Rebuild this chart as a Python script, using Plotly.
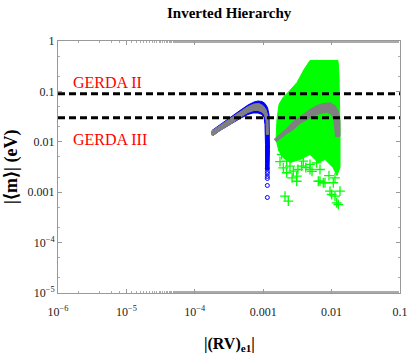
import plotly.graph_objects as go

# ---- data ----
# blue band (outline of the filled region)
blue_x = [1.785e-4, 2.34e-4, 3.27e-4, 4.58e-4, 5.99e-4, 7.34e-4, 8.39e-4, 9.60e-4, 1.062e-3, 1.156e-3,
          1.216e-3, 1.236e-3, 1.236e-3, 1.216e-3,
          1.080e-3, 1.080e-3, 1.062e-3, 1.028e-3, 9.60e-4, 8.39e-4, 7.10e-4, 5.99e-4, 4.58e-4, 3.27e-4,
          2.34e-4, 1.845e-4]
blue_y = [0.0168, 0.0220, 0.0304, 0.0418, 0.0537, 0.0616, 0.0645, 0.0631, 0.0575, 0.0479,
          0.0348, 0.0175, 0.00703, 0.00282,
          0.00282, 0.00883, 0.0220, 0.0304, 0.0348, 0.0373, 0.0373, 0.0348, 0.0290, 0.0220,
          0.0168, 0.0133]

# isolated blue points
blue_pts_x = [1.15e-3, 1.15e-3, 1.15e-3, 1.15e-3, 1.15e-3, 1.15e-3, 1.15e-3]
blue_pts_y = [0.00295, 0.00258, 0.00235, 0.00205, 0.00187, 0.00136, 0.000785]

# gray band on the blue branch
gray1_x = [1.726e-4, 2.34e-4, 3.27e-4, 4.58e-4, 5.99e-4, 7.34e-4, 8.67e-4, 9.93e-4, 1.099e-3, 1.175e-3,
           1.194e-3, 1.117e-3, 1.099e-3, 1.045e-3, 9.60e-4, 8.39e-4, 7.34e-4, 5.99e-4, 4.58e-4,
           3.27e-4, 2.34e-4, 1.845e-4, 1.726e-4]
gray1_y = [0.0160, 0.0211, 0.0290, 0.0399, 0.0501, 0.0562, 0.0575, 0.0525, 0.0437, 0.0318,
           0.0140, 0.0140, 0.0265, 0.0340, 0.0390, 0.0418, 0.0418, 0.0381, 0.0304,
           0.0220, 0.0168, 0.0133, 0.0140]

# green dense region
green_x = [1.539e-3, 1.591e-3, 1.702e-3, 1.948e-3, 2.305e-3, 3.119e-3, 3.950e-3, 4.831e-3, 1.241e-2,
           1.282e-2, 1.327e-2, 1.327e-2, 1.199e-2, 1.048e-2, 8.008e-3, 6.325e-3, 4.831e-3, 3.451e-3,
           2.465e-3, 1.948e-3, 1.645e-3]
green_y = [0.0101, 0.0277, 0.0550, 0.0757, 0.0951, 0.150, 0.272, 0.410, 0.410,
           0.216, 0.0175, 0.00309, 0.00214, 0.00309, 0.00445, 0.00388, 0.00560, 0.00445,
           0.00388, 0.00488, 0.00703]

# scattered green points
green_pts_x = [1.862e-3, 2.206e-3, 2.465e-3, 2.754e-3, 3.090e-3, 3.090e-3, 2.084e-3, 2.328e-3, 3.857e-3,
               4.831e-3, 6.054e-3, 6.764e-3, 6.764e-3, 8.008e-3, 9.476e-3, 1.0035e-2, 1.121e-2, 1.188e-2,
               1.253e-2, 1.327e-2, 1.968e-3, 2.206e-3, 2.646e-3, 3.642e-3, 4.831e-3, 6.39e-3, 7.56e-3,
               1.059e-2, 1.121e-2, 9.16e-3, 5.17e-3, 4.20e-3, 3.22e-3, 1.760e-3]
green_pts_y = [0.00560, 0.00412, 0.00328, 0.00261, 0.00208, 0.00165, 0.000833, 0.000663, 0.00412,
               0.00355, 0.00383, 0.00282, 0.00165, 0.00154, 0.00105, 0.000900, 0.000833, 0.000616,
               0.000570, 0.00105, 0.00305, 0.00243, 0.00193, 0.00328, 0.00282, 0.00165, 0.00154,
               0.00154, 0.00193, 0.00214, 0.00258, 0.00309, 0.00282, 0.00406]

# gray band on the green branch
gray2_x = [1.438e-3, 1.760e-3, 2.221e-3, 2.754e-3, 3.451e-3, 4.831e-3, 6.117e-3, 7.482e-3, 9.476e-3,
           1.121e-2, 1.253e-2, 1.327e-2, 1.327e-2, 1.140e-2, 1.084e-2, 1.0035e-2, 8.48e-3, 6.764e-3,
           4.831e-3, 3.451e-3, 2.754e-3, 2.221e-3, 1.760e-3, 1.539e-3]
gray2_y = [0.0111, 0.0140, 0.0184, 0.0253, 0.0318, 0.0437, 0.0525, 0.0575, 0.0594,
           0.0525, 0.0405, 0.0256, 0.0127, 0.0127, 0.0256, 0.0348, 0.0387, 0.0365,
           0.0299, 0.0231, 0.0175, 0.0146, 0.0115, 0.0101]

gerda_labels = ["GERDA II", "GERDA III"]
gerda_values = [0.09, 0.03]

x_tickvals = [1e-6, 1e-5, 1e-4, 1e-3, 1e-2, 1e-1]
x_ticktext = ["10<sup>\u22126</sup>", "10<sup>\u22125</sup>", "10<sup>\u22124</sup>", "0.001", "0.01", "0.1"]
y_tickvals = [1e-5, 1e-4, 1e-3, 1e-2, 1e-1, 1]
y_ticktext = ["10<sup>\u22125</sup>", "10<sup>\u22124</sup>", "0.001", "0.01", "0.1", "1"]

GREEN = "#00ff00"
BLUE = "#0000ff"
GRAY = "#808080"
SERIF = "Liberation Serif"

fig = go.Figure()
fig.add_trace(go.Scatter(x=green_x, y=green_y, fill="toself", fillcolor=GREEN, mode="lines",
                         line=dict(color=GREEN, width=1), hoverinfo="skip"))
fig.add_trace(go.Scatter(x=green_pts_x, y=green_pts_y, mode="markers",
                         marker=dict(symbol="cross-thin-open", size=7, color=GREEN,
                                     line=dict(color=GREEN, width=1.3))))
fig.add_trace(go.Scatter(x=blue_x, y=blue_y, fill="toself", fillcolor=BLUE, mode="lines",
                         line=dict(color=BLUE, width=1), hoverinfo="skip"))
fig.add_trace(go.Scatter(x=blue_pts_x, y=blue_pts_y, mode="markers",
                         marker=dict(symbol="circle-open", size=4, color=BLUE,
                                     line=dict(color=BLUE, width=1))))
fig.add_trace(go.Scatter(x=gray1_x, y=gray1_y, fill="toself", fillcolor=GRAY, mode="lines",
                         line=dict(color=GRAY, width=1), hoverinfo="skip"))
fig.add_trace(go.Scatter(x=gray2_x, y=gray2_y, fill="toself", fillcolor=GRAY, mode="lines",
                         line=dict(color=GRAY, width=1), hoverinfo="skip"))

for v in gerda_values:
    fig.add_shape(type="line", xref="paper", x0=0, x1=1, yref="y", y0=v, y1=v,
                  line=dict(color="black", width=3, dash="7px,4px"), layer="above")

label_pos = [0.835, 0.608]
for lab, py in zip(gerda_labels, label_pos):
    fig.add_annotation(text=lab, xref="paper", yref="paper", x=0.038, y=py, xanchor="left",
                       yanchor="middle", showarrow=False,
                       font=dict(family=SERIF, size=16, color="#ff0000"))

# titles placed as annotations (pixel-accurate)
fig.add_annotation(text="<b>Inverted Hierarchy</b>", xref="paper", yref="paper",
                   x=0.5, y=1 + (41 - 13) / 252, xanchor="center", yanchor="middle", showarrow=False,
                   font=dict(family=SERIF, size=15, color="black"))
fig.add_annotation(text="<b>|(RV)<sub>e1</sub>|</b>", xref="paper", yref="paper",
                   x=0.5, y=-(344 - 293) / 252, xanchor="center", yanchor="middle", showarrow=False,
                   font=dict(family=SERIF, size=16, color="black"))
fig.add_annotation(text="<b>|\u27e8m\u27e9| (eV)</b>", xref="paper", yref="paper",
                   x=-(58 - 11) / 342, y=0.5, xanchor="center", yanchor="middle", showarrow=False,
                   textangle=-90, font=dict(family=SERIF, size=18, color="black"))

axis_common = dict(showline=True, linecolor="#999999", linewidth=1, mirror="allticks",
                   ticks="inside", ticklen=4, tickcolor="#999999", showgrid=False, zeroline=False,
                   automargin=False,
                   tickfont=dict(family=SERIF, size=12, color="#222222"),
                   minor=dict(ticks="inside", ticklen=2, tickcolor="#aaaaaa", showgrid=False))

fig.update_xaxes(type="log", range=[-6, -1], tickvals=x_tickvals, ticktext=x_ticktext,
                 ticklabelstandoff=8, **axis_common)
fig.update_yaxes(type="log", range=[-5, 0], tickvals=y_tickvals, ticktext=y_ticktext, **axis_common)

fig.update_layout(
    width=409, height=354,
    margin=dict(l=58, r=9, t=41, b=61, autoexpand=False),
    paper_bgcolor="white", plot_bgcolor="white",
    showlegend=False,
)

fig.write_html("out.html", config={"displayModeBar": False},
               post_script="document.body.style.margin='0';document.body.style.padding='0';")
